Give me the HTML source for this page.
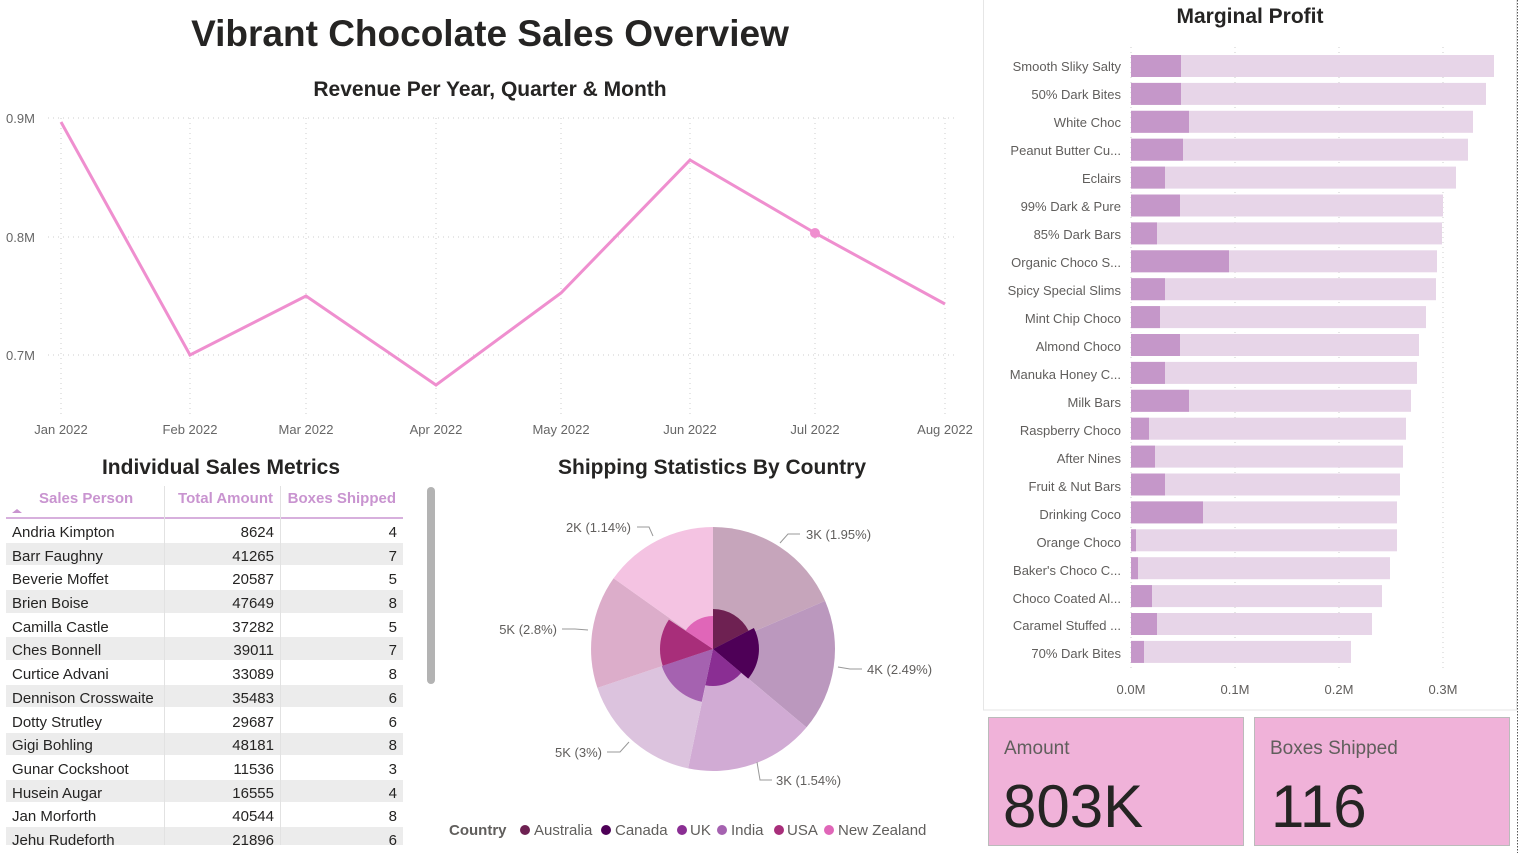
<!DOCTYPE html>
<html><head><meta charset="utf-8"><style>
body{margin:0;background:#fff;width:1520px;height:853px;overflow:hidden;font-family:"Liberation Sans",sans-serif;}
svg{position:absolute;left:0;top:0}
</style></head><body>
<svg width="1520" height="853" viewBox="0 0 1520 853" font-family="Liberation Sans, sans-serif">
<!-- panel borders -->
<rect x="983.5" y="-1" width="533" height="711" fill="none" stroke="#e6e6e6"/>
<line x1="1517.5" y1="0" x2="1517.5" y2="853" stroke="#555" stroke-dasharray="1.5 1.5"/>
<text x="490" y="46" text-anchor="middle" font-size="37" font-weight="bold" fill="#252423">Vibrant Chocolate Sales Overview</text>
<text x="490" y="96" text-anchor="middle" font-size="21" font-weight="bold" fill="#252423">Revenue Per Year, Quarter &amp; Month</text>
<!-- line chart grid -->
<g stroke="#ccc" stroke-dasharray="1 4">
<line x1="48" y1="118" x2="958" y2="118"/><line x1="48" y1="237" x2="958" y2="237"/><line x1="48" y1="355" x2="958" y2="355"/>
<line x1="61" y1="118" x2="61" y2="415"/><line x1="190" y1="118" x2="190" y2="415"/><line x1="306" y1="118" x2="306" y2="415"/><line x1="436" y1="118" x2="436" y2="415"/><line x1="561" y1="118" x2="561" y2="415"/><line x1="690" y1="118" x2="690" y2="415"/><line x1="815" y1="118" x2="815" y2="415"/><line x1="945" y1="118" x2="945" y2="415"/>
</g>
<g font-size="13" fill="#666">
<text x="6" y="123">0.9M</text><text x="6" y="242">0.8M</text><text x="6" y="360">0.7M</text>
<g text-anchor="middle"><text x="61" y="434">Jan 2022</text><text x="190" y="434">Feb 2022</text><text x="306" y="434">Mar 2022</text><text x="436" y="434">Apr 2022</text><text x="561" y="434">May 2022</text><text x="690" y="434">Jun 2022</text><text x="815" y="434">Jul 2022</text><text x="945" y="434">Aug 2022</text></g>
</g>
<polyline points="61,122 190,355 306,296 436,385 561,293 690,160 815,233 945,304" fill="none" stroke="#ef8fcf" stroke-width="3"/>
<circle cx="815" cy="233" r="5" fill="#ef8fcf"/>
<!-- table -->
<text x="221" y="474" text-anchor="middle" font-size="21" font-weight="bold" fill="#252423">Individual Sales Metrics</text>
<g font-size="15" font-weight="bold" fill="#c994d0">
<text x="39" y="503">Sales Person</text><text x="273" y="503" text-anchor="end">Total Amount</text><text x="396" y="503" text-anchor="end">Boxes Shipped</text>
</g>
<path d="M12 513 L17 509 L22 513 Z" fill="#c994d0"/>
<g fill="#ececec">
<rect x="6" y="543" width="397" height="22"/><rect x="6" y="590" width="397" height="23"/><rect x="6" y="637" width="397" height="23"/><rect x="6" y="685" width="397" height="22"/><rect x="6" y="733" width="397" height="22"/><rect x="6" y="780" width="397" height="22"/><rect x="6" y="827" width="397" height="18"/>
</g>
<line x1="6" y1="518" x2="403" y2="518" stroke="#d7b0dd" stroke-width="2"/>
<line x1="164.5" y1="486" x2="164.5" y2="845" stroke="#e2e2e2"/><line x1="280.5" y1="486" x2="280.5" y2="845" stroke="#e2e2e2"/>
<rect x="427" y="487" width="8" height="197" rx="4" fill="#b3b3b3"/>
<g font-size="15" fill="#252423">
<g><text x="12" y="537">Andria Kimpton</text><text x="12" y="561">Barr Faughny</text><text x="12" y="584">Beverie Moffet</text><text x="12" y="608">Brien Boise</text><text x="12" y="632">Camilla Castle</text><text x="12" y="655">Ches Bonnell</text><text x="12" y="679">Curtice Advani</text><text x="12" y="703">Dennison Crosswaite</text><text x="12" y="727">Dotty Strutley</text><text x="12" y="750">Gigi Bohling</text><text x="12" y="774">Gunar Cockshoot</text><text x="12" y="798">Husein Augar</text><text x="12" y="821">Jan Morforth</text><text x="12" y="845">Jehu Rudeforth</text></g>
<g text-anchor="end"><text x="274" y="537">8624</text><text x="274" y="561">41265</text><text x="274" y="584">20587</text><text x="274" y="608">47649</text><text x="274" y="632">37282</text><text x="274" y="655">39011</text><text x="274" y="679">33089</text><text x="274" y="703">35483</text><text x="274" y="727">29687</text><text x="274" y="750">48181</text><text x="274" y="774">11536</text><text x="274" y="798">16555</text><text x="274" y="821">40544</text><text x="274" y="845">21896</text></g>
<g text-anchor="end"><text x="397" y="537">4</text><text x="397" y="561">7</text><text x="397" y="584">5</text><text x="397" y="608">8</text><text x="397" y="632">5</text><text x="397" y="655">7</text><text x="397" y="679">8</text><text x="397" y="703">6</text><text x="397" y="727">6</text><text x="397" y="750">8</text><text x="397" y="774">3</text><text x="397" y="798">4</text><text x="397" y="821">8</text><text x="397" y="845">6</text></g>
</g>
<rect x="0" y="846" width="440" height="7" fill="#fff"/>
<!-- pie -->
<text x="712" y="474" text-anchor="middle" font-size="21" font-weight="bold" fill="#252423">Shipping Statistics By Country</text>
<g id="pie"></g>
<g fill="none" stroke="#999">
<polyline points="780,543 788,534 800,534"/><polyline points="838,667 850,669 862,669"/><polyline points="757,762 760,780 772,780"/><polyline points="629,742 620,752 607,752"/><polyline points="588,630 575,629 562,629"/><polyline points="653,536 649,527 637,527"/>
</g>
<g font-size="13" fill="#605e5c">
<text x="806" y="539">3K (1.95%)</text><text x="867" y="674">4K (2.49%)</text><text x="776" y="785">3K (1.54%)</text><text x="602" y="757" text-anchor="end">5K (3%)</text><text x="557" y="634" text-anchor="end">5K (2.8%)</text><text x="631" y="532" text-anchor="end">2K (1.14%)</text>
</g>
<g font-size="15" fill="#605e5c">
<text x="449" y="835" font-weight="bold">Country</text>
<circle cx="525" cy="830" r="5" fill="#6e2152"/><text x="534" y="835">Australia</text>
<circle cx="606" cy="830" r="5" fill="#4e0057"/><text x="615" y="835">Canada</text>
<circle cx="682" cy="830" r="5" fill="#8a2e93"/><text x="690" y="835">UK</text>
<circle cx="722" cy="830" r="5" fill="#a562b0"/><text x="731" y="835">India</text>
<circle cx="779" cy="830" r="5" fill="#a82e7a"/><text x="787" y="835">USA</text>
<circle cx="829" cy="830" r="5" fill="#e066b8"/><text x="838" y="835">New Zealand</text>
</g>
<!-- marginal profit -->
<text x="1250" y="23" text-anchor="middle" font-size="21" font-weight="bold" fill="#252423">Marginal Profit</text>
<g stroke="#ccc" stroke-dasharray="1 4"><line x1="1131" y1="47" x2="1131" y2="668"/><line x1="1235" y1="47" x2="1235" y2="668"/><line x1="1339" y1="47" x2="1339" y2="668"/><line x1="1443" y1="47" x2="1443" y2="668"/></g>
<g id="bars"></g>
<g font-size="13" fill="#605e5c" text-anchor="end">
<text x="1121" y="71">Smooth Sliky Salty</text><text x="1121" y="99">50% Dark Bites</text><text x="1121" y="127">White Choc</text><text x="1121" y="155">Peanut Butter Cu...</text><text x="1121" y="183">Eclairs</text><text x="1121" y="211">99% Dark &amp; Pure</text><text x="1121" y="239">85% Dark Bars</text><text x="1121" y="267">Organic Choco S...</text><text x="1121" y="295">Spicy Special Slims</text><text x="1121" y="323">Mint Chip Choco</text><text x="1121" y="351">Almond Choco</text><text x="1121" y="379">Manuka Honey C...</text><text x="1121" y="407">Milk Bars</text><text x="1121" y="435">Raspberry Choco</text><text x="1121" y="463">After Nines</text><text x="1121" y="491">Fruit &amp; Nut Bars</text><text x="1121" y="519">Drinking Coco</text><text x="1121" y="547">Orange Choco</text><text x="1121" y="575">Baker's Choco C...</text><text x="1121" y="603">Choco Coated Al...</text><text x="1121" y="630">Caramel Stuffed ...</text><text x="1121" y="658">70% Dark Bites</text>
</g>
<g font-size="13" fill="#605e5c" text-anchor="middle"><text x="1131" y="694">0.0M</text><text x="1235" y="694">0.1M</text><text x="1339" y="694">0.2M</text><text x="1443" y="694">0.3M</text></g>
<!-- KPI -->
<rect x="988.5" y="717.5" width="255" height="128" fill="#f0b2d9" stroke="#bbb"/>
<rect x="1254.5" y="717.5" width="255" height="128" fill="#f0b2d9" stroke="#bbb"/>
<text x="1004" y="754" font-size="19" fill="#605e5c">Amount</text>
<text x="1270" y="754" font-size="19" fill="#605e5c">Boxes Shipped</text>
<text x="1003" y="827" font-size="60" fill="#252423">803K</text>
<text x="1271" y="827" font-size="60" fill="#252423">116</text>
</svg>
<script>
var ns="http://www.w3.org/2000/svg";
function arc(g,cx,cy,r,a0,a1,col){var p=document.createElementNS(ns,"path");function pt(a){var t=a*Math.PI/180;return (cx+r*Math.sin(t)).toFixed(1)+","+(cy-r*Math.cos(t)).toFixed(1);}
p.setAttribute("d","M"+cx+","+cy+" L"+pt(a0)+" A"+r+","+r+" 0 "+((a1-a0)>180?1:0)+" 1 "+pt(a1)+" Z");p.setAttribute("fill",col);g.appendChild(p);}
var g=document.getElementById("pie"),cx=713,cy=649;
[[0,66.8,"#c6a5bb"],[66.8,130,"#bb98be"],[130,191.8,"#d1abd4"],[191.8,251.4,"#dcc3de"],[251.4,305.4,"#dcadca"],[305.4,360,"#f4c3e2"]].forEach(function(s){arc(g,cx,cy,122,s[0],s[1],s[2]);});
[[0,62.8,40,"#6e2152"],[62.8,130,46,"#4e0057"],[130,192,37,"#8a2e93"],[192,251.6,54,"#a562b0"],[251.6,303.7,53,"#a82e7a"],[303.7,360,33,"#e066b8"]].forEach(function(s){arc(g,cx,cy,s[2],s[0],s[1],s[3]);});
var b=document.getElementById("bars");
[[1494,1181],[1486,1181],[1473,1189],[1468,1183],[1456,1165],[1443,1180],[1442,1157],[1437,1229],[1436,1165],[1426,1160],[1419,1180],[1417,1165],[1411,1189],[1406,1149],[1403,1155],[1400,1165],[1397,1203],[1397,1136],[1390,1138],[1382,1152],[1372,1157],[1351,1144]].forEach(function(d,i){
var y=55+i*27.9;
var r=document.createElementNS(ns,"rect");r.setAttribute("x",1131);r.setAttribute("y",y);r.setAttribute("width",d[0]-1131);r.setAttribute("height",22);r.setAttribute("fill","#e7d5e8");b.appendChild(r);
r=document.createElementNS(ns,"rect");r.setAttribute("x",1131);r.setAttribute("y",y);r.setAttribute("width",d[1]-1131);r.setAttribute("height",22);r.setAttribute("fill","#c597c9");b.appendChild(r);});
</script>
</body></html>
